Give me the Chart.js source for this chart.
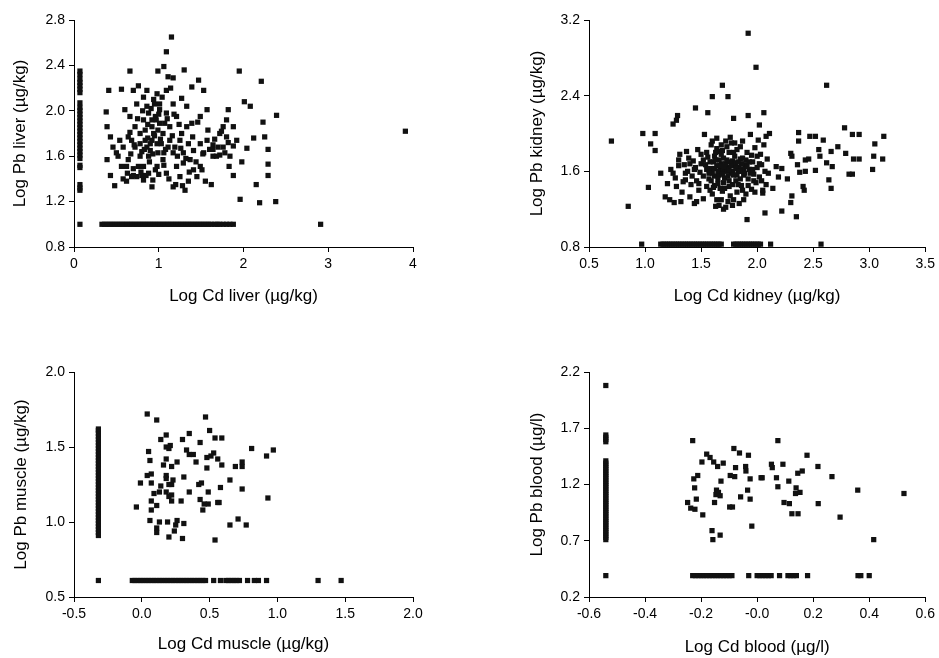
<!DOCTYPE html>
<html><head><meta charset="UTF-8">
<title>Log Pb vs Log Cd</title>
<script src="https://cdn.jsdelivr.net/npm/chart.js"></script>
<style>
body{margin:0;background:#fff;width:939px;height:658px;overflow:hidden;}
canvas{position:absolute;}
</style>
</head><body>
<canvas id="c1" width="469" height="320" style="left:0;top:0"></canvas>
<canvas id="c2" width="469" height="320" style="left:470px;top:0"></canvas>
<canvas id="c3" width="469" height="338" style="left:0;top:320px"></canvas>
<canvas id="c4" width="469" height="338" style="left:470px;top:320px"></canvas>
<script>
// --- liver ---
const liverPts = [[3.91,1.82],[1.15,2.65],[1.09,2.52],[1.06,2.39],[0.99,2.35],[0.66,2.35],[1.30,2.36],[1.47,2.27],[1.95,2.35],[2.21,2.26],
  [2.39,1.96],[1.11,2.30],[1.17,2.29],[0.41,2.18],[0.56,2.19],[0.70,2.18],[0.76,2.22],[1.39,2.21],[1.53,2.18],[1.27,2.11],
  [0.38,1.99],[0.60,2.01],[0.39,1.86],[0.39,1.57],[0.43,1.43],[0.48,1.34],[0.62,1.38],[1.96,1.22],[2.19,1.19],[2.38,1.20],
  [2.15,1.35],[1.62,1.35],[2.29,1.53],[2.29,1.43],[2.29,1.66],[2.25,1.77],[2.23,1.90],[2.01,2.08],[2.08,2.04],[2.12,1.76],
  [2.04,1.67],[1.88,1.69],[1.83,1.51],[1.88,1.43],[1.98,1.55],[1.82,2.01],[1.80,1.92],[1.72,1.80],[1.64,1.70],[1.72,1.61],
  [1.58,1.83],[1.64,1.60],[1.49,1.51],[1.45,1.42],[1.35,1.38],[1.31,1.30],[1.25,1.42],[1.17,1.33],[1.09,1.45],[0.96,1.48],
  [0.92,1.33],[0.82,1.39],[0.74,1.42],[0.94,2.10],[1.01,2.01],[0.86,2.04],[0.92,1.92],[0.78,1.80],[0.68,1.74],[0.58,1.68],
  [0.50,1.63],[0.64,1.57],[0.78,1.60],[0.90,1.65],[0.98,1.71],[1.05,1.80],[1.13,1.86],[1.21,1.95],[1.33,2.04],[1.33,1.86],
  [1.25,1.74],[1.17,1.63],[1.05,1.57],[0.98,1.51],[0.82,1.51],[0.70,1.49],[0.86,1.68],[0.94,1.80],[1.01,1.89],[1.09,1.98],
  [1.17,2.06],[1.09,2.18],[0.98,2.15],[0.86,2.18],[0.82,2.12],[0.74,2.06],[0.66,1.95],[0.54,1.74],[0.46,1.68],[0.43,1.77],
  [0.52,1.60],[0.62,1.51],[1.49,1.71],[1.49,1.95],[1.57,2.01],[1.41,1.65],[1.37,1.57],[1.29,1.54],[1.41,1.48],[1.53,1.63],
  [1.57,1.74],[1.64,1.66],[1.80,1.77],[1.88,1.86],[1.92,1.74],[1.76,1.68],[1.51,1.48],[1.39,1.89],[1.27,1.80],[1.19,1.68],
  [1.11,1.68],[1.03,1.71],[0.99,1.63],[0.88,1.60],[0.80,1.64],[0.72,1.68],[0.64,1.77],[0.72,1.86],[0.82,1.92],[0.88,1.98],
  [0.96,1.95],[1.01,2.06],[0.92,1.74],[0.84,1.74],[0.76,1.51],[0.88,1.45],[0.93,1.39],[0.80,1.43],[0.68,1.42],[0.56,1.51],
  [1.84,1.60],[1.76,1.86],[1.68,1.60],[1.21,1.51],[1.29,1.63],[1.35,1.71],[1.13,1.74],[1.07,1.89],[0.99,1.83],[0.92,1.86],
  [0.84,1.83],[0.78,1.71],
  [0.63,1.45],[0.67,1.62],[0.71,1.70],[0.75,1.93],[0.79,1.46],[0.81,2.00],[0.83,1.66],[0.85,1.43],[0.87,1.88],[0.89,1.55],
  [0.91,2.02],[0.93,1.62],[0.95,1.78],[0.97,1.92],[1.00,1.44],[1.02,1.75],[1.04,2.12],[1.06,1.52],[1.08,1.66],[1.10,1.93],
  [1.12,1.40],[1.14,2.20],[1.16,1.78],[1.18,1.97],[1.20,1.35],[1.22,1.60],[1.24,1.88],[1.26,1.67],[1.28,1.34],[1.32,1.58],
  [1.36,1.46],[1.40,1.77],[1.44,1.55],[1.46,1.90],[1.52,1.62],[1.55,1.38],[1.60,1.66],[1.66,1.75],[1.70,1.68],[1.74,1.82],
  [1.78,1.63],[1.82,1.72],[0.58,1.40],[0.70,1.43],[0.66,1.81],[0.90,1.71],[1.00,1.97],[0.95,2.06],[0.87,1.76],[1.06,1.63]];
const liverColX = 0.07;
const liverColY = [2.35,2.32,2.28,2.25,2.22,2.19,2.16,2.07,2.03,2.00,1.97,1.94,1.91,1.88,1.85,1.82,1.79,1.76,1.73,1.70,
  1.67,1.64,1.61,1.58,1.52,1.50,1.35,1.32,1.30,1.00];
const liverFloorY = 1.0;
const liverFloorX = [0.33,0.36,0.39,0.42,0.45,0.48,0.51,0.54,0.57,0.60,0.63,0.66,0.69,0.72,0.75,0.78,0.81,0.84,0.87,0.90,
  0.93,0.96,0.99,1.02,1.05,1.08,1.11,1.14,1.17,1.20,1.23,1.26,1.29,1.32,1.35,1.38,1.41,1.44,1.47,1.50,1.53,1.56,1.59,1.62,
  1.66,1.69,1.72,1.76,1.80,1.84,1.88,2.91];
const liverXTicks = [0,1,2,3,4];
const liverXLabels = ['0','1','2','3','4'];
const liverYTicks = [0.8,1.2,1.6,2.0,2.4,2.8];
const liverYLabels = ['0.8','1.2','1.6','2.0','2.4','2.8'];

// --- kidney ---
const kidneyPts = [[1.92,3.06],[1.99,2.70],[1.69,2.51],[2.62,2.51],[1.60,2.39],[1.74,2.39],[1.45,2.27],[1.56,2.22],[1.92,2.19],[2.06,2.22],
  [1.29,2.19],[1.28,2.14],[1.25,2.10],[1.79,2.16],[2.02,2.09],[0.70,1.92],[0.98,2.00],[1.09,2.00],[1.05,1.89],[1.09,1.82],
  [1.14,1.58],[1.03,1.43],[0.85,1.23],[2.78,2.06],[2.85,1.99],[2.91,1.99],[3.13,1.97],[3.05,1.89],[3.04,1.76],[3.12,1.73],
  [3.03,1.62],[2.91,1.73],[2.86,1.73],[2.79,1.79],[2.72,1.86],[2.82,1.57],[2.85,1.57],[2.66,1.42],[2.64,1.51],[2.59,1.93],
  [2.66,1.81],[2.56,1.76],[2.47,1.97],[2.52,1.97],[2.37,2.01],[2.37,1.92],[2.30,1.79],[2.31,1.76],[2.36,1.67],[2.43,1.72],
  [2.46,1.73],[2.55,1.83],[2.62,1.69],[2.67,1.65],[2.52,1.61],[2.43,1.60],[2.38,1.59],[2.41,1.44],[2.42,1.40],[2.31,1.34],
  [2.30,1.27],[2.35,1.12],[2.22,1.18],[2.07,1.16],[1.91,1.09],[2.27,1.52],[2.19,1.54],[2.17,1.65],[2.22,1.63],[2.14,1.42],
  [2.05,1.37],[2.08,1.46],
  [1.18,1.33],[1.22,1.30],[1.20,1.47],[1.23,1.62],[1.25,1.58],[1.27,1.53],[1.28,1.44],[1.30,1.72],[1.31,1.78],[1.32,1.28],
  [1.33,1.38],[1.35,1.67],[1.36,1.51],[1.37,1.81],[1.38,1.60],[1.40,1.33],[1.41,1.46],[1.42,1.55],[1.43,1.71],[1.44,1.26],
  [1.45,1.64],[1.46,1.50],[1.47,1.83],[1.48,1.40],[1.49,1.59],[1.50,1.68],[1.30,1.66],[1.26,1.27],[1.34,1.49],[1.39,1.74],
  [1.46,1.28],[1.52,1.31],[1.53,1.99],[1.55,1.44],[1.56,1.75],[1.57,1.52],[1.58,1.63],[1.59,1.88],[1.60,1.36],[1.61,1.70],
  [1.62,1.55],[1.63,1.23],[1.64,1.95],[1.65,1.47],[1.66,1.81],[1.67,1.61],[1.68,1.68],[1.69,1.39],[1.70,1.74],[1.71,1.53],
  [1.72,1.22],[1.73,1.86],[1.74,1.64],[1.75,1.44],[1.76,1.96],[1.77,1.58],[1.78,1.71],[1.79,1.30],[1.80,1.66],[1.81,1.50],
  [1.82,1.83],[1.83,1.60],[1.84,1.26],[1.85,1.73],[1.86,1.45],[1.87,1.92],[1.88,1.56],[1.89,1.67],[1.90,1.36],[1.91,1.80],
  [1.92,1.52],[1.93,1.62],[1.94,1.99],[1.95,1.41],[1.96,1.70],[1.97,1.57],[1.98,1.85],[1.99,1.48],[2.00,1.64],[2.01,1.93],
  [2.02,1.54],[2.03,1.78],[2.04,1.67],[2.05,1.40],[2.06,1.88],[2.07,1.60],[2.08,1.97],[2.09,1.73],[2.10,1.58],[2.11,2.00],
  [1.55,1.62],[1.58,1.70],[1.60,1.58],[1.62,1.76],[1.64,1.66],[1.66,1.56],[1.68,1.78],[1.70,1.62],[1.72,1.68],[1.74,1.55],
  [1.76,1.70],[1.78,1.60],[1.80,1.76],[1.82,1.56],[1.84,1.64],[1.86,1.68],[1.88,1.62],[1.90,1.72],[1.70,1.48],[1.65,1.52],
  [1.75,1.80],[1.85,1.52],[1.62,1.45],[1.78,1.46],[1.92,1.45],[1.57,1.58],[1.66,1.72],[1.73,1.60],[1.81,1.69],[1.94,1.58],
  [1.52,1.55],[1.54,1.67],[1.68,1.88],[1.72,1.92],[1.80,1.90],[1.60,1.92],[1.64,1.84],[1.76,1.34],[1.82,1.38],[1.68,1.30],
  [1.74,1.28],[1.58,1.40],[1.96,1.62],[2.00,1.76],[2.04,1.50],[1.98,1.38],[1.50,1.78],[1.44,1.62],[1.40,1.68],[1.36,1.58],
  [1.70,1.20],[1.78,1.24],[1.66,1.24],[1.88,1.30],[1.64,1.30],
  [1.62,1.63],[1.63,1.72],[1.65,1.60],[1.67,1.66],[1.69,1.57],[1.71,1.65],[1.73,1.72],[1.75,1.62],[1.77,1.66],[1.79,1.56],
  [1.81,1.63],[1.83,1.70],[1.85,1.60],[1.87,1.74],[1.89,1.58],[1.91,1.65],[1.93,1.70],[1.69,1.82],[1.71,1.42],[1.79,1.80],
  [1.83,1.46],[1.59,1.50],[1.55,1.80],[1.48,1.47],[1.52,1.72],[1.95,1.77],[1.97,1.50],[2.02,1.68],[1.61,1.43],[1.87,1.40],
  [1.75,1.50],[1.67,1.42],[1.77,1.90],[1.85,1.86],[1.63,1.80]];
const kidneyFloorY = 0.83;
const kidneyFloorX = [0.97,1.14,1.16,1.18,1.20,1.22,1.24,1.26,1.28,1.30,1.32,1.34,1.36,1.38,1.40,1.42,1.44,1.46,1.48,1.50,
  1.52,1.54,1.56,1.58,1.60,1.62,1.64,1.66,1.68,1.79,1.81,1.83,1.85,1.87,1.89,1.91,1.93,1.95,1.97,1.99,2.01,2.03,2.12,2.57];
const kidneyXTicks = [0.5,1.0,1.5,2.0,2.5,3.0,3.5];
const kidneyXLabels = ['0.5','1.0','1.5','2.0','2.5','3.0','3.5'];
const kidneyYTicks = [0.8,1.6,2.4,3.2];
const kidneyYLabels = ['0.8','1.6','2.4','3.2'];

// --- muscle ---
const musclePts = [[0.04,1.72],[0.11,1.68],[0.47,1.70],[0.50,1.61],[0.54,1.56],[0.59,1.56],[0.35,1.59],[0.30,1.55],[0.14,1.55],[0.18,1.58],
  [0.18,1.50],[0.21,1.51],[0.20,1.49],[0.05,1.47],[0.33,1.48],[0.35,1.45],[0.38,1.45],[0.43,1.53],[0.53,1.46],[0.51,1.44],
  [0.48,1.43],[0.56,1.42],[0.59,1.38],[0.40,1.40],[0.26,1.40],[0.18,1.42],[0.16,1.38],[0.22,1.37],[0.48,1.36],[0.69,1.37],
  [0.74,1.37],[0.74,1.40],[0.81,1.49],[0.92,1.44],[0.97,1.48],[0.93,1.16],[0.06,1.41],[0.04,1.31],[0.07,1.32],[0.18,1.31],
  [0.18,1.29],[0.31,1.30],[0.07,1.26],[-0.01,1.26],[0.14,1.24],[0.20,1.25],[0.22,1.25],[0.23,1.28],[0.42,1.25],[0.44,1.26],
  [0.58,1.23],[0.65,1.28],[0.74,1.22],[0.35,1.20],[0.49,1.20],[0.13,1.20],[0.09,1.19],[0.18,1.20],[0.22,1.18],[0.20,1.17],
  [0.07,1.14],[0.22,1.14],[0.29,1.14],[0.43,1.15],[0.46,1.12],[0.49,1.12],[0.56,1.13],[0.57,1.13],[-0.04,1.10],[0.11,1.11],
  [0.07,1.08],[0.45,1.08],[0.06,1.01],[0.13,1.00],[0.19,1.00],[0.26,1.01],[0.31,0.99],[0.25,0.98],[0.11,0.96],[0.11,0.93],
  [0.24,0.94],[0.20,0.90],[0.30,0.89],[0.54,0.88],[0.65,0.98],[0.71,1.02],[0.77,0.98]];
const muscleColX = -0.32;
const muscleColY = [0.61,0.91,0.93,0.95,0.97,0.99,1.01,1.03,1.05,1.07,1.09,1.11,1.13,1.15,1.17,1.19,1.21,1.23,1.25,1.27,
  1.29,1.31,1.33,1.35,1.37,1.39,1.41,1.43,1.45,1.47,1.49,1.51,1.53,1.55,1.57,1.59,1.61,1.62];
const muscleFloorY = 0.61;
const muscleFloorX = [-0.07,-0.05,-0.03,-0.01,0.01,0.03,0.05,0.07,0.09,0.11,0.13,0.15,0.17,0.19,0.21,0.23,0.25,0.27,0.29,0.31,
  0.33,0.35,0.37,0.39,0.41,0.43,0.45,0.47,0.53,0.58,0.62,0.64,0.66,0.68,0.70,0.72,0.78,0.83,0.86,0.92,1.30,1.47];
const muscleXTicks = [-0.5,0.0,0.5,1.0,1.5,2.0];
const muscleXLabels = ['-0.5','0.0','0.5','1.0','1.5','2.0'];
const muscleYTicks = [0.5,1.0,1.5,2.0];
const muscleYLabels = ['0.5','1.0','1.5','2.0'];

// --- blood ---
const bloodPts = [[-0.23,1.59],[0.074,1.59],[-0.248,1.04],[-0.237,0.99],[-0.222,0.98],[-0.223,1.17],[-0.226,1.25],[-0.212,1.28],[-0.217,1.07],[-0.197,1.40],
  [-0.194,0.93],[-0.180,1.47],[-0.168,1.44],[-0.155,1.40],[-0.141,1.36],[-0.121,1.39],[-0.129,1.23],[-0.145,1.15],[-0.138,1.13],[-0.147,1.11],
  [-0.132,1.10],[-0.152,1.04],[-0.161,0.79],[-0.158,0.71],[-0.132,0.75],[-0.096,1.28],[-0.080,1.27],[-0.083,1.52],[-0.063,1.48],[-0.077,1.35],
  [-0.098,1.00],[-0.088,1.00],[-0.059,1.09],[-0.041,1.36],[-0.040,1.32],[-0.031,1.46],[-0.025,1.25],[-0.034,1.15],[-0.025,1.07],[-0.019,0.83],
  [0.014,1.26],[0.018,1.26],[0.051,1.38],[0.054,1.35],[0.069,1.26],[0.074,1.18],[0.092,1.38],[0.096,1.04],[0.113,1.23],[0.115,1.03],
  [0.124,0.94],[0.146,0.94],[0.139,1.17],[0.137,1.12],[0.153,1.13],[0.145,1.30],[0.161,1.32],[0.178,1.46],[0.217,1.36],[0.218,1.03],
  [0.267,1.27],[0.296,0.91],[0.359,1.15],[0.416,0.71],[0.524,1.12]];
const bloodColX = -0.54;
const bloodColY = [0.39,0.71,0.73,0.75,0.77,0.79,0.81,0.83,0.85,0.87,0.89,0.91,0.93,0.95,0.97,0.99,1.01,1.03,1.05,1.07,
  1.09,1.11,1.13,1.15,1.17,1.19,1.21,1.23,1.25,1.27,1.29,1.31,1.33,1.35,1.37,1.39,1.41,1.58,1.60,1.62,1.64,2.08];
const bloodFloorY = 0.39;
const bloodFloorX = [-0.23,-0.22,-0.21,-0.20,-0.19,-0.18,-0.17,-0.16,-0.15,-0.14,-0.13,-0.12,-0.11,-0.10,-0.09,-0.03,
  0.00,0.01,0.02,0.03,0.04,0.05,0.08,0.11,0.12,0.13,0.14,0.18,0.36,0.37,0.40];
const bloodXTicks = [-0.6,-0.4,-0.2,0.0,0.2,0.4,0.6];
const bloodXLabels = ['-0.6','-0.4','-0.2','-0.0','0.2','0.4','0.6'];
const bloodYTicks = [0.2,0.7,1.2,1.7,2.2];
const bloodYLabels = ['0.2','0.7','1.2','1.7','2.2'];

Chart.defaults.font.family = '"Liberation Sans", Arial, sans-serif';
Chart.defaults.color = '#000';

function allPoints(pts, colX, colY, floorY, floorX) {
  const out = pts.map(p => ({ x: p[0], y: p[1] }));
  colY.forEach(y => out.push({ x: colX, y: y }));
  floorX.forEach(x => out.push({ x: x, y: floorY }));
  return out;
}

function axis(ticks, labels, title, size, titlePad) {
  return {
    type: 'linear',
    min: ticks[0],
    max: ticks[ticks.length - 1],
    afterBuildTicks: s => { s.ticks = ticks.map(v => ({ value: v })); },
    afterFit: s => { if (s.isHorizontal()) s.height = size; else s.width = size; },
    ticks: { callback: (v, i) => labels[i], font: { size: 14 }, color: '#000', padding: 4, autoSkip: false, maxRotation: 0 },
    grid: { display: true, drawOnChartArea: false, drawTicks: true, tickLength: 5, color: '#000', tickColor: '#000' },
    border: { display: true, color: '#000', width: 1 },
    title: { display: true, text: title, font: { size: 17 }, color: '#000', padding: titlePad }
  };
}

function panel(id, data, xAx, yAx, pad) {
  new Chart(document.getElementById(id), {
    type: 'scatter',
    data: { datasets: [{ data: data, backgroundColor: '#111', borderWidth: 0, pointStyle: 'rect', pointRadius: 3.7, pointHoverRadius: 3.7, clip: false }] },
    options: {
      responsive: false, animation: false, devicePixelRatio: 1,
      layout: { padding: pad },
      plugins: { legend: { display: false }, tooltip: { enabled: false } },
      scales: { x: xAx, y: yAx }
    }
  });
}

panel('c1', allPoints(liverPts, liverColX, liverColY, liverFloorY, liverFloorX),
  axis(liverXTicks, liverXLabels, 'Log Cd liver (\u00b5g/kg)', 73, { top: 0, bottom: 13 }),
  axis(liverYTicks, liverYLabels, 'Log Pb liver (\u00b5g/kg)', 74, { top: 10, bottom: 0 }),
  { left: 0, top: 20, right: 56, bottom: 0 });

panel('c2', allPoints(kidneyPts, 0, [], kidneyFloorY, kidneyFloorX),
  axis(kidneyXTicks, kidneyXLabels, 'Log Cd kidney (\u00b5g/kg)', 73, { top: 0, bottom: 13 }),
  axis(kidneyYTicks, kidneyYLabels, 'Log Pb kidney (\u00b5g/kg)', 74, { top: 12, bottom: 0 }),
  { left: 45, top: 20, right: 12, bottom: 0 });

panel('c3', allPoints(musclePts, muscleColX, muscleColY, muscleFloorY, muscleFloorX),
  axis(muscleXTicks, muscleXLabels, 'Log Cd muscle (\u00b5g/kg)', 61, { top: 0, bottom: 3 }),
  axis(muscleYTicks, muscleYLabels, 'Log Pb muscle (\u00b5g/kg)', 74, { top: 11, bottom: 0 }),
  { left: 0, top: 52, right: 56, bottom: 0 });

panel('c4', allPoints(bloodPts, bloodColX, bloodColY, bloodFloorY, bloodFloorX),
  axis(bloodXTicks, bloodXLabels, 'Log Cd blood (\u00b5g/l)', 61, { top: 0, bottom: 0 }),
  axis(bloodYTicks, bloodYLabels, 'Log Pb blood (\u00b5g/l)', 74, { top: 12, bottom: 0 }),
  { left: 45, top: 52, right: 12, bottom: 0 });
</script>
</body></html>
